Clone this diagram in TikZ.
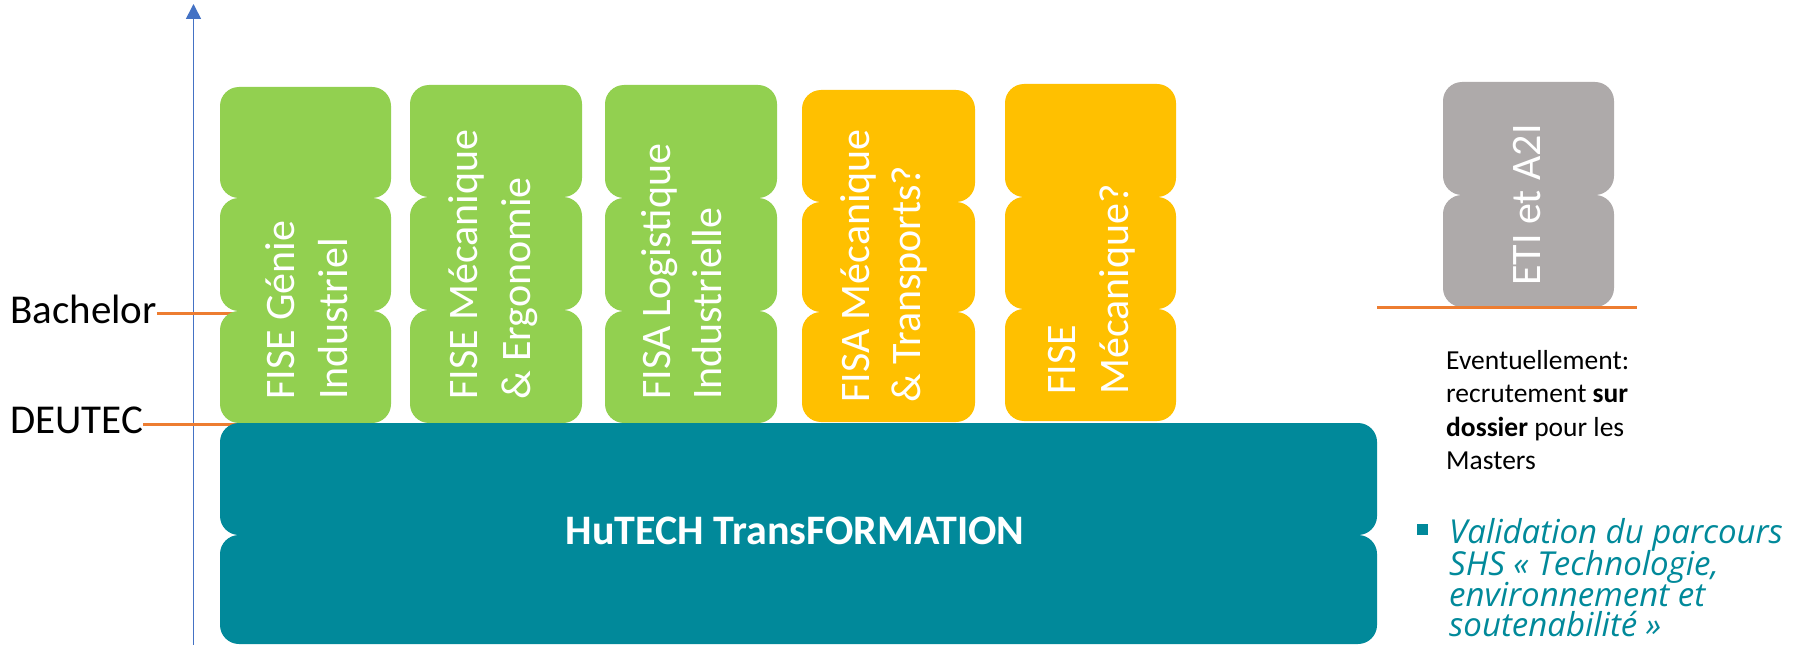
\documentclass[tikz,border=0pt]{standalone}
\usepackage{fontspec}
\setmainfont{Carlito}
\newfontfamily\shsfont{Open Sans}
\usetikzlibrary{arrows.meta}
\definecolor{vert}{HTML}{92D050}
\definecolor{jaune}{HTML}{FFC000}
\definecolor{gris}{HTML}{AEAAAA}
\definecolor{sarcelle}{HTML}{01899A}
\definecolor{axe}{HTML}{4472C4}
\definecolor{niveau}{HTML}{ED7D31}
\begin{document}
\begin{tikzpicture}[x=1bp,y=1bp,
  piece/.style={rectangle, rounded corners=19bp, inner sep=0pt, outer sep=0pt, anchor=north west},
  vtxt/.style={rotate=90, anchor=base west, inner sep=0pt, text=white, font=\fontsize{42bp}{50bp}\selectfont},
  lbl/.style={anchor=base west, inner sep=0pt, font=\fontsize{41bp}{49bp}\selectfont},
  note/.style={anchor=base west, inner sep=0pt, font=\fontsize{27.5bp}{33bp}\selectfont},
  shs/.style={anchor=base west, inner sep=0pt, text=sarcelle, font=\shsfont\itshape\fontsize{33bp}{31bp}\selectfont},
  lvl/.style={draw=niveau, line width=3bp}
]
\useasboundingbox (0,0) rectangle (1804,-645);

% vertical axis
\coordinate (axB) at (193.5,-645);
\coordinate (axT) at (193.5,-4);
\draw[axe, line width=1.6bp, -{Triangle[length=15bp,width=15bp]}] (axB) -- (axT);

% level labels and lines
\node[lbl] (bach) at (10,-323) {Bachelor};
\node[lbl] (deu) at (10,-433) {DEUTEC};
\coordinate (bachY) at (0,-313);
\coordinate (deuY) at (0,-424);
\coordinate (bachEnd) at (240,-313);
\coordinate (deuEnd) at (410,-424);
\draw[lvl] (bach.east |- bachY) -- (bachEnd);
\draw[lvl] (deu.east |- deuY) -- (deuEnd);

% stacked columns
\foreach \n/\l/\w/\ya/\yb/\yc/\yd/\c in {
  c1/220/171/87/198/311/423/vert,
  c2/410/172/85/197/310/423/vert,
  c3/605/172/85/198/311/423/vert,
  c4/802/173/90/202/312/422/jaune,
  c5/1005/171/84/197/309/421/jaune}{
  \node[piece, fill=\c, minimum width=\w bp, minimum height={(\yb-\ya)*1bp}] (\n-a) at (\l,-\ya) {};
  \node[piece, fill=\c, minimum width=\w bp, minimum height={(\yc-\yb)*1bp}] (\n-b) at (\l,-\yb) {};
  \node[piece, fill=\c, minimum width=\w bp, minimum height={(\yd-\yc)*1bp}] (\n-c) at (\l,-\yc) {};
}

% grey column
\node[piece, fill=gris, minimum width=171bp, minimum height=113bp] (g-a) at (1443,-82) {};
\node[piece, fill=gris, minimum width=171bp, minimum height=112bp] (g-b) at (1443,-195) {};
\coordinate (gL) at (1377,-307);
\coordinate (gR) at (1637,-307);
\draw[lvl] (gL) -- (gR);

% teal base
\node[piece, fill=sarcelle, minimum width=1157bp, minimum height=112bp] (t-a) at (220,-423) {};
\node[piece, fill=sarcelle, minimum width=1157bp, minimum height=109bp] (t-b) at (220,-535) {};
\node[text=white, inner sep=0pt, font=\bfseries\fontsize{42bp}{50bp}\selectfont] (hu) at (795,-531) {HuTECH TransFORMATION};

% column texts
\node[vtxt] (x1a) at (294,-400) {FISE Génie};
\node[vtxt] (x1b) at (347,-400) {Industriel};
\node[vtxt] (x2a) at (477,-400) {FISE Mécanique};
\node[vtxt] (x2b) at (530,-400) {\& Ergonomie};
\node[vtxt] (x3a) at (670,-400) {FISA Logistique};
\node[vtxt] (x3b) at (721,-400) {Industrielle};
\node[vtxt] (x4a) at (869,-403) {FISA Mécanique};
\node[vtxt] (x4b) at (920,-403) {\& Transports?};
\node[vtxt] (x5a) at (1075,-395) {FISE};
\node[vtxt] (x5b) at (1128,-395) {Mécanique?};
\node[vtxt] (xg) at (1540,-286) {ETI et A2I};

% note
\node[note] (n1) at (1446,-369) {Eventuellement:};
\node[note] (n2) at (1446,-402) {recrutement \textbf{sur}};
\node[note] (n3) at (1446,-436) {\textbf{dossier} pour les};
\node[note] (n4) at (1446,-469) {Masters};

% bullet
\node[fill=sarcelle, minimum size=11bp, inner sep=0pt] (puce) at (1422.5,-529.5) {};
\node[shs] (s1) at (1449,-543) {Validation du parcours};
\node[shs] (s2) at (1449,-575) {SHS «~Technologie,};
\node[shs] (s3) at (1449,-606) {environnement et};
\node[shs] (s4) at (1449,-636) {soutenabilité~»};
\end{tikzpicture}
\end{document}
